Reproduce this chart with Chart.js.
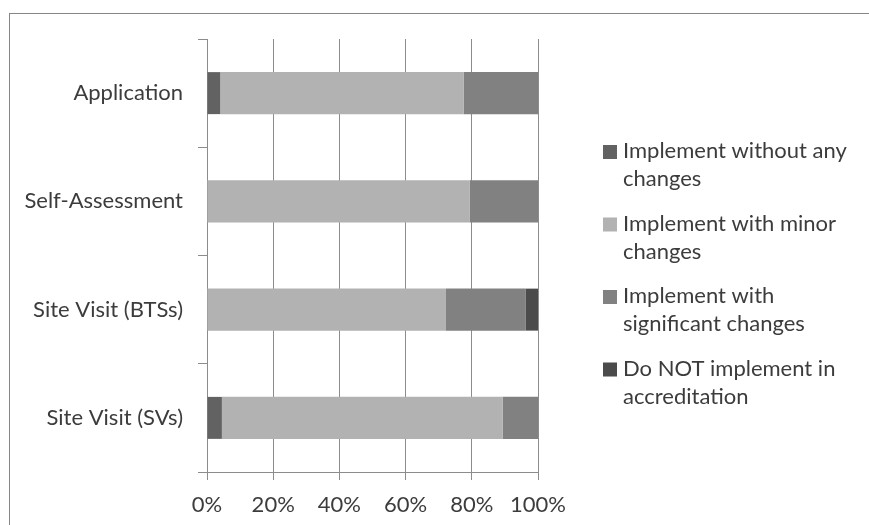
<!DOCTYPE html>
<html>
<head>
<meta charset="utf-8">
<script src="https://cdn.jsdelivr.net/npm/chart.js@4/dist/chart.umd.min.js"></script>
<style>
  html, body { margin: 0; padding: 0; background: #fff; overflow: hidden; }
  #wrap { position: relative; width: 869px; height: 525px; }
  #frame { position: absolute; left: 9px; top: 13px; width: 880px; height: 540px; border: 1px solid #868686; box-sizing: border-box; }
  canvas { position: absolute; left: 0; top: 0; }
</style>
</head>
<body>
<div id="wrap">
  <div id="frame"></div>
  <canvas id="c" width="869" height="525"></canvas>
</div>
<script>
// Survey responses: how each accreditation component should be implemented (% of respondents)
const categories = ["Application", "Self-Assessment", "Site Visit (BTSs)", "Site Visit (SVs)"];
const seriesNames = [
  "Implement without any changes",
  "Implement with minor changes",
  "Implement with significant changes",
  "Do NOT implement in accreditation"
];
const withoutChanges     = [4.0, 0.0, 0.0, 4.5];
const minorChanges       = [73.5, 79.3, 72.2, 84.8];
const significantChanges = [22.5, 20.7, 24.0, 10.7];
const notImplemented     = [0.0, 0.0, 3.8, 0.0];
const tickValues = [0, 20, 40, 60, 80, 100];

const seriesValues = [withoutChanges, minorChanges, significantChanges, notImplemented];
const seriesColors = ["#626262", "#b2b2b2", "#818181", "#4b4b4b"];

const FONT_FAMILY = "Lato, 'Open Sans', sans-serif";
const FONT_SIZE = 22;
const TEXT_COLOR = "#3c3c3c";
const LINE_COLOR = "#8c8c8c";

// Right-hand legend with word-wrapped labels
function wrapText(ctx, text, maxWidth) {
  const words = text.split(" ");
  const lines = [];
  let line = "";
  for (const w of words) {
    const test = line ? line + " " + w : w;
    if (line && ctx.measureText(test).width > maxWidth) {
      lines.push(line);
      line = w;
    } else {
      line = test;
    }
  }
  if (line) lines.push(line);
  return lines;
}

const sideLegend = {
  id: "sideLegend",
  afterDraw(chart, args, opts) {
    const ctx = chart.ctx;
    ctx.save();
    ctx.font = opts.font;
    ctx.textBaseline = "alphabetic";
    ctx.textAlign = "left";
    chart.data.datasets.forEach((ds, i) => {
      const base = opts.firstBaseline + i * opts.itemSpacing;
      ctx.fillStyle = ds.backgroundColor;
      ctx.fillRect(opts.boxX, base - opts.boxSize + 1, opts.boxSize, opts.boxSize);
      ctx.fillStyle = opts.color;
      wrapText(ctx, ds.label, opts.maxWidth).forEach((ln, j) => {
        ctx.fillText(ln, opts.textX, base + j * opts.lineHeight);
      });
    });
    ctx.restore();
  }
};

new Chart(document.getElementById("c"), {
  type: "bar",
  data: {
    labels: categories,
    datasets: seriesNames.map((name, i) => ({
      label: name,
      data: seriesValues[i],
      backgroundColor: seriesColors[i],
      borderWidth: 0,
      categoryPercentage: 1.0,
      barPercentage: 0.388
    }))
  },
  options: {
    indexAxis: "y",
    responsive: false,
    animation: false,
    devicePixelRatio: 1,
    layout: { padding: { top: 39, right: 331, left: 0, bottom: 0 } },
    plugins: {
      legend: { display: false },
      tooltip: { enabled: false },
      sideLegend: {
        font: FONT_SIZE + "px " + FONT_FAMILY,
        color: TEXT_COLOR,
        boxX: 603,
        boxSize: 14,
        textX: 623,
        firstBaseline: 158,
        itemSpacing: 72.5,
        lineHeight: 28.3,
        maxWidth: 238
      }
    },
    scales: {
      x: {
        stacked: true,
        min: 0,
        max: 100,
        afterBuildTicks(scale) { scale.ticks = tickValues.map(v => ({ value: v })); },
        afterFit(scale) { scale.height = 53; },
        ticks: {
          callback: v => v + "%",
          color: TEXT_COLOR,
          font: { family: FONT_FAMILY, size: FONT_SIZE },
          padding: 12,
          maxRotation: 0,
          autoSkip: false
        },
        grid: { color: LINE_COLOR, lineWidth: 1, tickLength: 8, drawTicks: true },
        border: { display: true, color: LINE_COLOR, width: 1 }
      },
      y: {
        stacked: true,
        afterFit(scale) { scale.width = 207; },
        ticks: {
          color: TEXT_COLOR,
          font: { family: FONT_FAMILY, size: FONT_SIZE },
          padding: 15
        },
        grid: { drawOnChartArea: false, drawTicks: true, tickLength: 9, color: LINE_COLOR, offset: true },
        border: { display: true, color: LINE_COLOR, width: 1 }
      }
    }
  },
  plugins: [sideLegend]
});
</script>
</body>
</html>
